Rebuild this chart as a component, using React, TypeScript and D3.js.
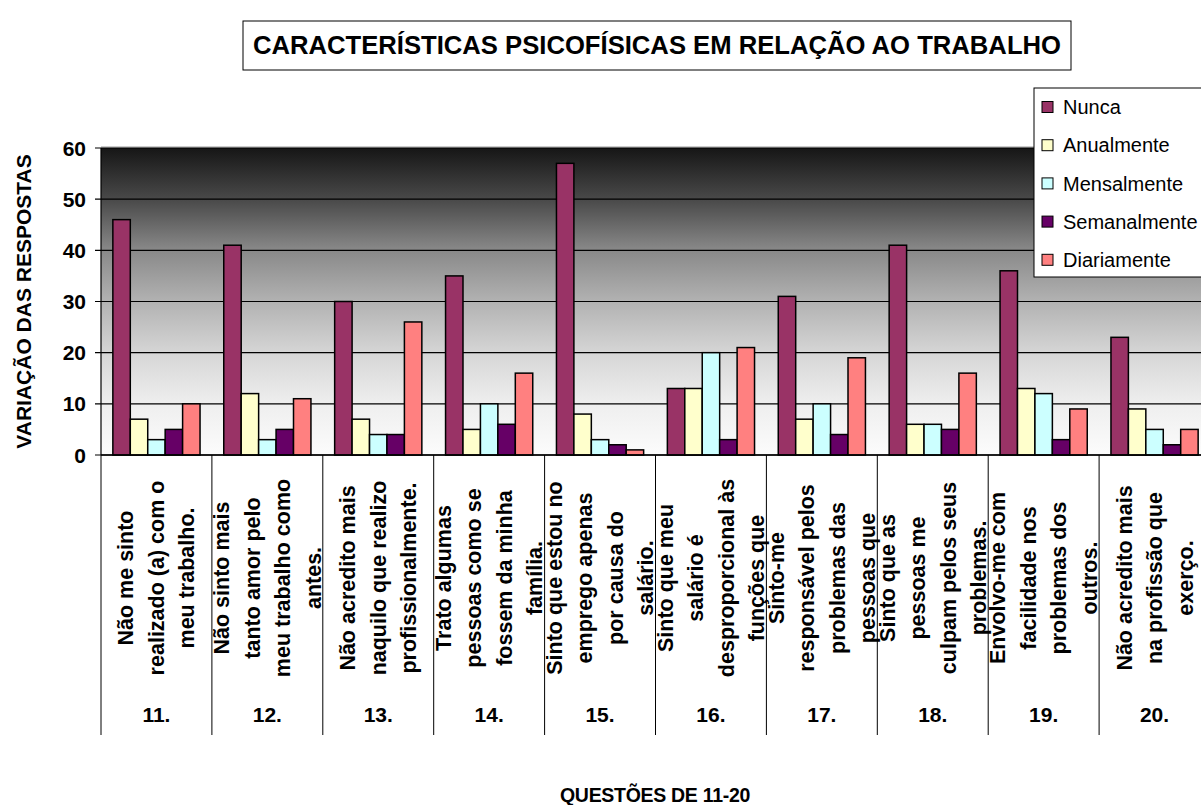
import * as d3 from 'd3'

const categories = ['11.', '12.', '13.', '14.', '15.', '16.', '17.', '18.', '19.', '20.']
const seriesNames = ['Nunca', 'Anualmente', 'Mensalmente', 'Semanalmente', 'Diariamente']
const seriesColors = ['#993366', '#FFFFCC', '#CCFFFF', '#660066', '#FF8080']

const nunca = [46, 41, 30, 35, 57, 13, 31, 41, 36, 23]
const anualmente = [7, 12, 7, 5, 8, 13, 7, 6, 13, 9]
const mensalmente = [3, 3, 4, 10, 3, 20, 10, 6, 12, 5]
const semanalmente = [5, 5, 4, 6, 2, 3, 4, 5, 3, 2]
const diariamente = [10, 11, 26, 16, 1, 21, 19, 16, 9, 5]

const questionLines = [
  ['Não me sinto', 'realizado (a) com o', 'meu trabalho.'],
  ['Não sinto mais', 'tanto amor pelo', 'meu trabalho como', 'antes.'],
  ['Não acredito mais', 'naquilo que realizo', 'profissionalmente.'],
  ['Trato algumas', 'pessoas como se', 'fossem da minha', 'família.'],
  ['Sinto que estou no', 'emprego apenas', 'por causa do', 'salário.'],
  ['Sinto que meu', 'salário é', 'desproporcional às', 'funções que'],
  ['Sinto-me', 'responsável pelos', 'problemas das', 'pessoas que'],
  ['Sinto que as', 'pessoas me', 'culpam pelos seus', 'problemas.'],
  ['Envolvo-me com', 'facilidade nos', 'problemas dos', 'outros.'],
  ['Não acredito mais', 'na profissão que', 'exerço.'],
]

const yTicks = [0, 10, 20, 30, 40, 50, 60]

const FONT = 'Liberation Sans, Arial, sans-serif'

export default function App() {
  const width = 1201
  const height = 805
  const left = 101
  const right = 1210
  const top = 148
  const bottom = 455

  const allSeries = [nunca, anualmente, mensalmente, semanalmente, diariamente]

  const x = d3.scaleBand<string>().domain(categories).range([left, right]).padding(0)
  const xInner = d3
    .scaleBand<string>()
    .domain(seriesNames)
    .range([0, x.bandwidth()])
    .paddingInner(0)
    .paddingOuter(0.68)
  const y = d3.scaleLinear().domain([0, 60]).range([bottom, top])

  const labelCenterY = 578
  const lineGap = 30.5

  return (
    <svg
      width={width}
      height={height}
      style={{ position: 'absolute', left: 0, top: 0, background: '#fff' }}
      fontFamily={FONT}
    >
      <defs>
        <linearGradient id="plotBg" x1="0" y1="0" x2="0" y2="1">
          <stop offset="0" stopColor="#161616" />
          <stop offset="0.17" stopColor="#4a4a4a" />
          <stop offset="0.33" stopColor="#888888" />
          <stop offset="0.5" stopColor="#b2b2b2" />
          <stop offset="0.67" stopColor="#d6d6d6" />
          <stop offset="0.83" stopColor="#eeeeee" />
          <stop offset="1" stopColor="#fcfcfc" />
        </linearGradient>
      </defs>

      {/* title */}
      <rect x={243} y={21} width={828} height={49} fill="#fff" stroke="#000" strokeWidth={1} />
      <text
        x={657}
        y={54}
        textAnchor="middle"
        fontSize={25}
        fontWeight="bold"
        textLength={808}
        lengthAdjust="spacingAndGlyphs"
      >
        CARACTERÍSTICAS PSICOFÍSICAS EM RELAÇÃO AO TRABALHO
      </text>

      {/* plot background */}
      <line x1={left} x2={right} y1={top - 1} y2={top - 1} stroke="#999" strokeWidth={1} />
      <rect x={left} y={top} width={right - left} height={bottom - top} fill="url(#plotBg)" />

      {/* gridlines */}
      {yTicks.map((t) => (
        <line key={t} x1={left - 6} x2={right} y1={y(t)} y2={y(t)} stroke="#000" strokeWidth={1.2} />
      ))}

      {/* bars */}
      {categories.map((c, i) => (
        <g key={c} transform={`translate(${x(c)},0)`}>
          {seriesNames.map((s, j) => {
            const v = allSeries[j][i]
            return (
              <rect
                key={s}
                x={xInner(s)}
                y={y(v)}
                width={xInner.bandwidth()}
                height={y(0) - y(v)}
                fill={seriesColors[j]}
                stroke="#000"
                strokeWidth={1.5}
              />
            )
          })}
        </g>
      ))}

      {/* axes */}
      <line x1={left} x2={left} y1={top} y2={bottom} stroke="#000" strokeWidth={1.2} />
      <line x1={left} x2={right} y1={bottom} y2={bottom} stroke="#000" strokeWidth={1.5} />
      {yTicks.map((t) => (
        <text
          key={t}
          x={86}
          y={y(t)}
          dy="0.36em"
          textAnchor="end"
          fontSize={21}
          fontWeight="bold"
        >
          {t}
        </text>
      ))}

      {/* category dividers */}
      {categories.map((c) => (
        <line
          key={c}
          x1={x(c)!}
          x2={x(c)!}
          y1={bottom}
          y2={735}
          stroke="#000"
          strokeWidth={1}
        />
      ))}

      {/* category labels */}
      {categories.map((c, i) => {
        const cx = x(c)! + x.bandwidth() / 2
        const lines = questionLines[i]
        return (
          <g key={c}>
            {lines.map((ln, k) => {
              const lx = cx + (k - (lines.length - 1) / 2) * lineGap
              return (
                <text
                  key={k}
                  transform={`translate(${lx + 7.5},${labelCenterY}) rotate(-90)`}
                  textAnchor="middle"
                  fontSize={21.5}
                  fontWeight="bold"
                >
                  {ln}
                </text>
              )
            })}
            <text x={cx} y={722} textAnchor="middle" fontSize={21} fontWeight="bold">
              {c}
            </text>
          </g>
        )
      })}

      {/* axis titles */}
      <text
        transform={`translate(31,${(top + bottom) / 2}) rotate(-90)`}
        textAnchor="middle"
        fontSize={21}
        fontWeight="bold"
      >
        VARIAÇÃO DAS RESPOSTAS
      </text>
      <text x={655} y={802} textAnchor="middle" fontSize={19.5} fontWeight="bold" letterSpacing={-0.3}>
        QUESTÕES DE 11-20
      </text>

      {/* legend */}
      <rect x={1034} y={88} width={190} height={189} fill="#fff" stroke="#000" strokeWidth={1} />
      {seriesNames.map((s, j) => {
        const ly = 107 + j * 38.2
        return (
          <g key={s}>
            <rect
              x={1042}
              y={ly - 5.5}
              width={11}
              height={11}
              fill={seriesColors[j]}
              stroke="#000"
              strokeWidth={1}
            />
            <text x={1063} y={ly} dy="0.36em" fontSize={20}>
              {s}
            </text>
          </g>
        )
      })}
    </svg>
  )
}
